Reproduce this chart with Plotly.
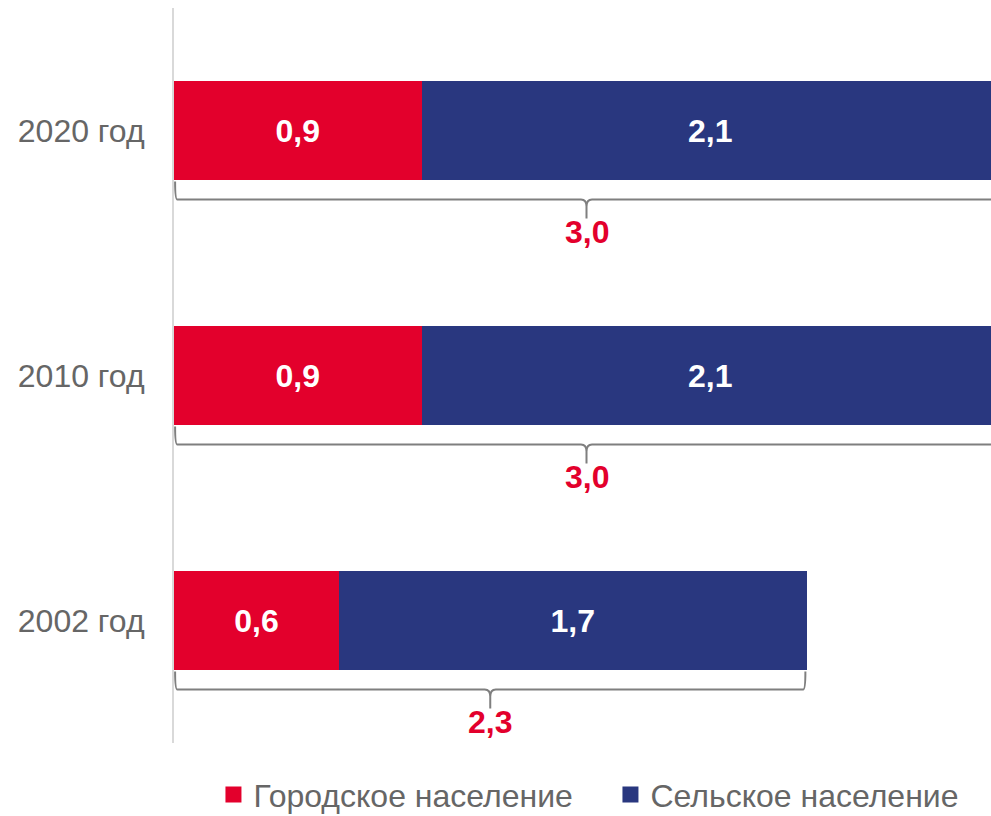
import plotly.graph_objects as go

# Data
years = ["2002 год", "2010 год", "2020 год"]
urban = [0.6, 0.9, 0.9]
rural = [1.7, 2.1, 2.1]
totals = [2.3, 3.0, 3.0]
series_names = ["Городское население", "Сельское население"]

RED = "#E3002C"
BLUE = "#29377F"
GRAY_TXT = "#666666"
BRACE = "#7F7F7F"
FONT = "Liberation Sans, Arial, sans-serif"

ypos = list(range(len(years)))

fig = go.Figure()
for name, vals, col in [(series_names[0], urban, RED), (series_names[1], rural, BLUE)]:
    fig.add_trace(go.Bar(
        y=ypos, x=vals, orientation="h", name=name,
        marker=dict(color=col, line=dict(width=0)),
        width=0.408,
        texttemplate="%{x:.1f}", textposition="inside", insidetextanchor="middle",
        textangle=0, constraintext="none",
        textfont=dict(color="white", size=32, family=FONT, weight="bold"),
        showlegend=False, hoverinfo="skip",
    ))
    # legend proxy with larger square
    fig.add_trace(go.Scatter(
        x=[None], y=[None], mode="markers", name=name,
        marker=dict(symbol="square", size=18, color=col),
        showlegend=True,
    ))

# Braces and totals
for yi, tot in zip(ypos, totals):
    x0 = 0.0
    x1 = tot
    mid = tot / 2
    e = 0.004
    c = 0.012
    m = 0.02
    path = (
        f"M {x0+e},-51 Q {x0+e},-69 {x0+c},-69 "
        f"L {mid-m},-69 Q {mid},-69 {mid},-76 L {mid},-88 "
        f"M {mid},-76 Q {mid},-69 {mid+m},-69 "
        f"L {x1-c},-69 Q {x1-e},-69 {x1-e},-51"
    )
    fig.add_shape(type="path", path=path, xref="x", yref="y",
                  xsizemode="scaled", ysizemode="pixel", yanchor=yi,
                  line=dict(color=BRACE, width=2))
    fig.add_annotation(x=mid, y=yi, xref="x", yref="y", yshift=-101,
                       text=f"{tot:.1f}".replace(".", ","), showarrow=False,
                       font=dict(color=RED, size=32, family=FONT, weight="bold"))

fig.update_layout(
    width=991, height=816,
    margin=dict(l=174, r=0, t=8, b=73),
    plot_bgcolor="white", paper_bgcolor="white",
    barmode="stack", separators=", ",
    font=dict(family=FONT, color=GRAY_TXT),
    xaxis=dict(range=[0, 817 / 275], visible=False, fixedrange=True),
    yaxis=dict(range=[-0.5, 2.5], tickvals=ypos, ticktext=years,
               showgrid=False, zeroline=False, fixedrange=True,
               showline=True, linecolor="#D9D9D9", linewidth=2,
               ticks="outside", ticklen=21, tickcolor="rgba(0,0,0,0)",
               tickfont=dict(size=32, color=GRAY_TXT, family=FONT)),
    legend=dict(orientation="h", xref="container", x=0.616, xanchor="center",
                yref="container", y=0.026, yanchor="middle",
                traceorder="normal", entrywidth=352, entrywidthmode="pixels",
                font=dict(size=32, color=GRAY_TXT, family=FONT),
                itemsizing="trace", itemwidth=30, tracegroupgap=0,
                bgcolor="rgba(0,0,0,0)"),
)

fig.write_html("out.html", config={"displayModeBar": False},
               post_script="document.body.style.margin='0px';")
